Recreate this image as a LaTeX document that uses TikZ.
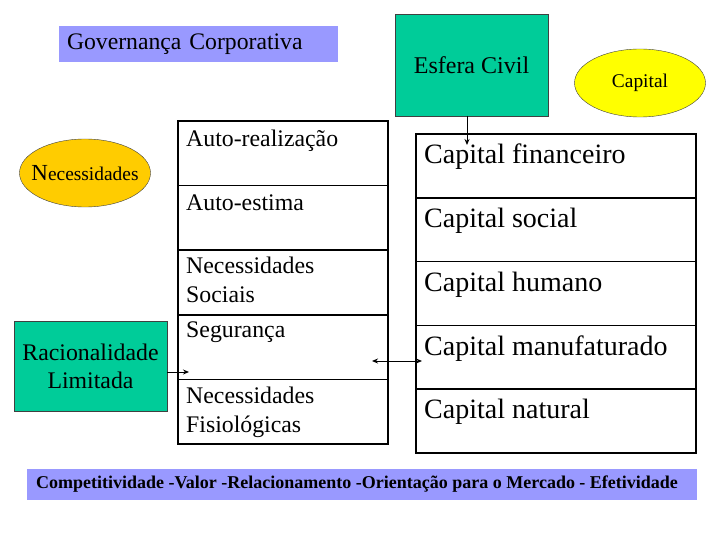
\documentclass[tikz,border=0pt]{standalone}
\usepackage{fontspec}
\setmainfont{Liberation Serif}
\usetikzlibrary{shapes.geometric, arrows.meta, positioning, calc}
\definecolor{govblue}{RGB}{153, 153, 255}
\definecolor{civgreen}{RGB}{0, 204, 153}
\definecolor{capyellow}{RGB}{255, 255, 0}
\definecolor{necorange}{RGB}{255, 204, 0}

\begin{document}
\begin{tikzpicture}[x=1pt, y=-1pt,
  band/.style={fill=govblue, inner sep=0pt, outer sep=0pt},
  gbox/.style={draw=black!75, fill=civgreen, align=center, inner sep=0pt, outer sep=0pt, minimum width=153pt},
  oval/.style={ellipse, draw=black!75, inner sep=0pt, minimum width=131pt, minimum height=68pt},
  lrow/.style={draw, line width=1.5pt, minimum width=210pt, minimum height=64.6pt, inner sep=0pt, outer sep=0pt},
  rrow/.style={draw, line width=1.5pt, minimum width=280pt, minimum height=63.8pt, inner sep=0pt, outer sep=0pt},
  ltxt/.style={anchor=north west, align=left, font=\fontsize{23.8}{29}\selectfont, inner sep=0pt},
  rtxt/.style={anchor=west, font=\fontsize{28}{32}\selectfont, inner sep=0pt},
  arr/.style={-{Stealth[length=6pt, width=5pt]}, line width=1pt},
  arrb/.style={{Stealth[length=6pt, width=5pt]}-{Stealth[length=6pt, width=5pt]}, line width=1pt}
]
  \useasboundingbox (0,0) rectangle (720,540);

  % top labels
  \node[band, anchor=north west, minimum width=279pt, minimum height=36pt, text width=263pt, align=left, font=\fontsize{23.7}{26}\selectfont] (gov) at (59,26) {Governança Corporativa};
  \node[gbox, anchor=north west, minimum height=102pt, font=\fontsize{24}{26}\selectfont] (civil) at (395,14) {Esfera Civil};
  \node[oval, fill=capyellow, font=\fontsize{19.4}{22}\selectfont] (cap) at (640,83) {Capital};
  \node[oval, fill=necorange, inner xsep=-9pt, font=\fontsize{19.4}{22}\selectfont] (nec) at (85,173) {{\fontsize{23}{23}\selectfont N}ecessidades};
  \node[gbox, anchor=north west, minimum height=90pt, font=\fontsize{23.8}{28}\selectfont] (rac) at (14,321) {Racionalidade\\Limitada};

  % needs table
  \node[lrow, anchor=north west] (l1) at (178,121) {};
  \node[lrow, below=0pt of l1] (l2) {};
  \node[lrow, below=0pt of l2] (l3) {};
  \node[lrow, below=0pt of l3] (l4) {};
  \node[lrow, below=0pt of l4] (l5) {};
  \draw[line width=2.5pt] (l1.north west) rectangle (l5.south east);
  \node[ltxt] (t1) at ([shift={(8,9)}]l1.north west) {Auto-realização};
  \node[ltxt] (t2) at ([shift={(8,9)}]l2.north west) {Auto-estima};
  \node[ltxt] (t3) at ([shift={(8,7)}]l3.north west) {Necessidades\\Sociais};
  \node[ltxt] (t4) at ([shift={(8,7)}]l4.north west) {Segurança};
  \node[ltxt] (t5) at ([shift={(8,7)}]l5.north west) {Necessidades\\Fisiológicas};

  % capital table
  \node[rrow, anchor=north west] (r1) at (416,134) {};
  \node[rrow, below=0pt of r1] (r2) {};
  \node[rrow, below=0pt of r2] (r3) {};
  \node[rrow, below=0pt of r3] (r4) {};
  \node[rrow, below=0pt of r4] (r5) {};
  \draw[line width=2.5pt] (r1.north west) rectangle (r5.south east);
  \node[rtxt] (c1) at ([shift={(8,23)}]r1.north west) {Capital financeiro};
  \node[rtxt] (c2) at ([shift={(8,23)}]r2.north west) {Capital social};
  \node[rtxt] (c3) at ([shift={(8,23)}]r3.north west) {Capital humano};
  \node[rtxt] (c4) at ([shift={(8,23)}]r4.north west) {Capital manufaturado};
  \node[rtxt] (c5) at ([shift={(8,23)}]r5.north west) {Capital natural};

  % arrows
  \coordinate (civ-a) at (467,145);
  \draw[arr] (civil.south -| civ-a) -- (civ-a);
  \coordinate (rac-a) at (189,372);
  \draw[arr] (rac.east |- rac-a) -- (rac-a);
  \coordinate (seg-a) at (372,361);
  \coordinate (man-a) at (422,361);
  \draw[arrb] (seg-a) -- (man-a);

  % bottom banner
  \node[band, anchor=north west, minimum width=670pt, minimum height=31pt] (val) at (27,469) {};
  \node[font=\bfseries\fontsize{18}{20}\selectfont, inner sep=0pt] (valtxt) at ([xshift=-5pt]val.center) {Competitividade -Valor -Relacionamento -Orientação para o Mercado - Efetividade};
\end{tikzpicture}
\end{document}
